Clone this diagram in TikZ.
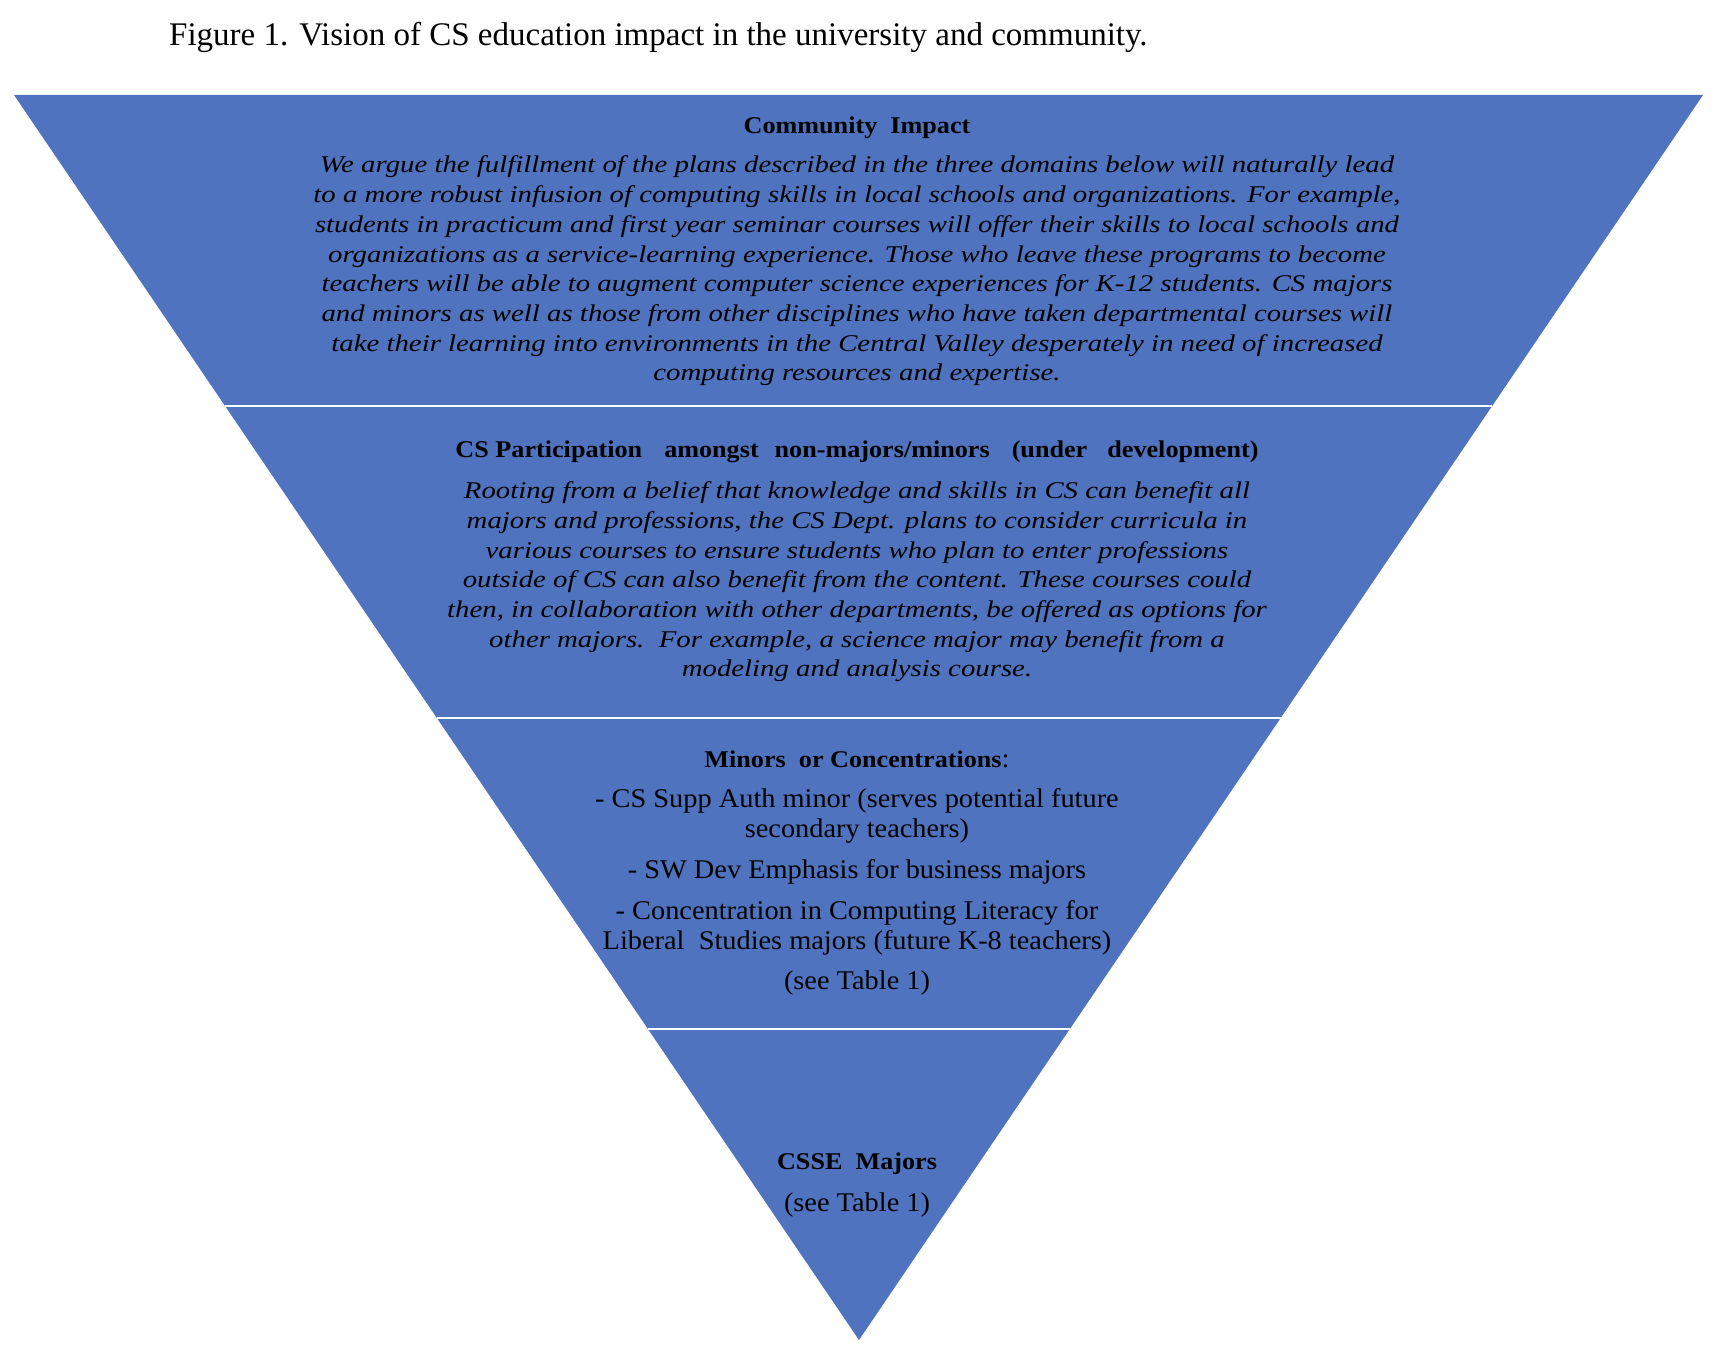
\documentclass[tikz,border=0pt]{standalone}
\usepackage{fontspec}
\setmainfont{Liberation Serif}
\newfontfamily\bodyfont[FakeStretch=1.2]{Liberation Serif}
\newfontfamily\headfont[FakeStretch=1.09]{Liberation Serif}
\newfontfamily\listfont[FakeStretch=1.05]{Liberation Serif}
\usetikzlibrary{calc}

\definecolor{layerblue}{RGB}{79,115,190}

\tikzset{
    layer/.style={fill=layerblue, draw=none},
    divider/.style={white, line width=2pt},
    headtext/.style={font=\headfont\fontsize{24}{30}\selectfont\bfseries},
    bodytext/.style={align=center, font=\bodyfont\fontsize{24}{29.7}\selectfont\itshape},
    listtext/.style={align=center, font=\listfont\fontsize{27}{29.8}\selectfont}
}
\newcommand{\listhead}[1]{{\headfont\bfseries\fontsize{24}{29.8}\selectfont #1}}

\begin{document}
\begin{tikzpicture}[x=1pt, y=-1pt]
    \useasboundingbox (0,0) rectangle (1714,1364);

    \node[anchor=west, font=\fontsize{33}{38}\selectfont, inner sep=0pt] (caption) at (169,37)
        {Figure 1. Vision of CS education impact in the university and community.};

    % Inverted pyramid
    \coordinate (tl) at (14,95);
    \coordinate (tr) at (1703,95);
    \coordinate (apex) at (859,1340);
    \fill[layer] (tl) -- (tr) -- (apex) -- cycle;

    % Layer borders
    \foreach \f in {0.25, 0.5, 0.75}
        \draw[divider] ($(tl)!\f!(apex)$) -- ($(tr)!\f!(apex)$);

    % Community layer
    \node[headtext] (communityhead) at (857,128) {Community\ \ Impact};
    \node[bodytext] (communitybody) at (857,271) {We argue the fulfillment of the plans described in the three domains below will naturally lead\\
        to a more robust infusion of computing skills in local schools and organizations. For example,\\
        students in practicum and first year seminar\ courses will offer\ their skills to local schools and\\
        organizations as a service-learning experience. Those who leave these programs to become\\
        teachers will be able to augment computer science experiences for K-12 students. CS majors\\
        and minors\ as well as\ those from\ other disciplines who have taken departmental courses will\\
        take their learning into environments in the Central Valley desperately in need of increased\\
        computing resources and expertise.};

    % Non-majors layer
    \node[headtext] (nonmajorhead) at (857,452) {CS Participation\hspace{22pt}amongst\hspace{16pt}non-majors/minors\hspace{22pt}(under\hspace{20pt}development)};
    \node[bodytext] (nonmajorbody) at (857,582) {Rooting from\ a belief that knowledge and skills in CS can benefit all\\
        majors\ and professions, the CS Dept. plans to consider curricula in\\
        various courses to ensure students who plan to enter professions\\
        outside of CS can also benefit from\ the content. These courses could\\
        then, in collaboration with other departments, be offered\ as options for\\
        other majors.\ \ For\ example, a science major\ may\ benefit from\ a\\
        modeling and analysis course.};

    % Minors layer
    \node[listtext] (minorlist) at (857,873) {\listhead{Minors\ \ or Concentrations}:\\[11pt]
        - CS\ Supp Auth minor\ (serves potential future\\
        secondary teachers)\\[11pt]
        - SW Dev Emphasis\ for\ business majors\\[11pt]
        - Concentration in Computing\ Literacy for\\
        Liberal\ \ Studies majors\ (future K-8\ teachers)\\[11pt]
        (see Table 1)};

    % Majors layer
    \node[listtext] (majorlist) at (857,1185) {\listhead{CSSE\ \ Majors}\\[12pt]
        (see Table 1)};
\end{tikzpicture}
\end{document}
